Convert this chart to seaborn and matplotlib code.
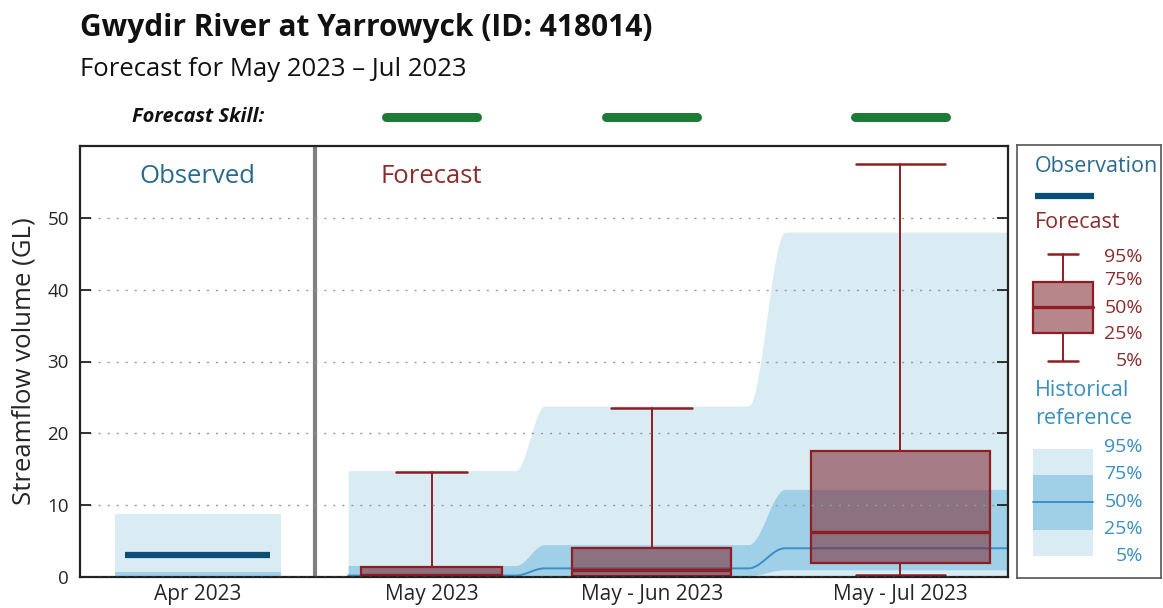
import numpy as np
import matplotlib
matplotlib.use("Agg")
import matplotlib.pyplot as plt
import seaborn as sns
from matplotlib.patches import Rectangle

# ---- data -------------------------------------------------------------
periods = ["Apr 2023", "May 2023", "May - Jun 2023", "May - Jul 2023"]
observed_value = 3.1  # Apr 2023 observation (GL)

# forecast percentiles (GL) for the three forecast periods
fc_p05 = [0.0, 0.0, 0.3]
fc_p25 = [0.1, 0.1, 2.0]
fc_p50 = [0.3, 1.0, 6.2]
fc_p75 = [1.4, 4.1, 17.6]
fc_p95 = [14.6, 23.5, 57.5]

# historical reference percentiles (GL) for all four periods
hist_p05 = [0.0, 0.0, 0.0, 0.0]
hist_p25 = [0.0, 0.1, 0.2, 1.0]
hist_p50 = [0.2, 0.2, 1.2, 4.0]
hist_p75 = [0.7, 1.6, 4.5, 12.2]
hist_p95 = [8.75, 14.8, 23.8, 48.0]

skill = ["high", "high", "high"]

# ---- layout (x in axis units 0..100) ----------------------------------
centers = [12.7, 37.9, 61.6, 88.4]
band_left = [3.8, 28.9, 50.1, 76.0]
band_right = [21.7, 46.9, 72.0, 100.0]
box_widths = [15.2, 17.2, 19.3]
cap_widths = [7.7, 8.7, 9.6]
obs_span = (4.8, 20.5)
divider_x = 25.3

LIGHT = "#d9ebf3"
DARK = "#a0d0e7"
MED = "#3b8fc9"
OBS = "#0b4f79"
RED = "#8f1d22"
BOXFACE = (125 / 255, 35 / 255, 45 / 255, 0.55)
OBS_TXT = "#2a6a8e"
FC_TXT = "#8b2d2d"
HIST_TXT = "#3a8fc0"
SKILL_COL = {"high": "#1e7b35", "moderate": "#f0c419", "low": "#e36b2c"}

sns.set_style("white")
plt.rcParams["font.family"] = ["Open Sans", "DejaVu Sans"]


def smooth_steps(lefts, rights, values, n=40):
    """Flat segments joined by cosine transitions."""
    xs, ys = [], []
    for i in range(len(values)):
        xs += [lefts[i], rights[i]]
        ys += [values[i], values[i]]
        if i < len(values) - 1:
            t = np.linspace(0, 1, n)[1:-1]
            s = (1 - np.cos(np.pi * t)) / 2
            xs += list(rights[i] + t * (lefts[i + 1] - rights[i]))
            ys += list(values[i] + s * (values[i + 1] - values[i]))
    return np.array(xs), np.array(ys)


fig = plt.figure(figsize=(11.63, 6.08), dpi=100)
ax = fig.add_axes([80 / 1163, 31 / 608, 928 / 1163, 431 / 608])

# historical reference - observed period
ax.fill_between([band_left[0], band_right[0]], hist_p05[0], hist_p95[0],
                color=LIGHT, lw=0)
ax.fill_between([band_left[0], band_right[0]], hist_p25[0], hist_p75[0],
                color=DARK, lw=0)

# historical reference - forecast periods
fl, fr = band_left[1:], band_right[1:]
x, lo = smooth_steps(fl, fr, hist_p05[1:])
_, hi = smooth_steps(fl, fr, hist_p95[1:])
ax.fill_between(x, lo, hi, color=LIGHT, lw=0)
_, lo = smooth_steps(fl, fr, hist_p25[1:])
_, hi = smooth_steps(fl, fr, hist_p75[1:])
ax.fill_between(x, lo, hi, color=DARK, lw=0)
_, med = smooth_steps(fl, fr, hist_p50[1:])
ax.plot(x, med, color=MED, lw=1.4)

# observation
ax.plot(obs_span, [observed_value, observed_value], color=OBS, lw=4.5,
        solid_capstyle="butt")

# forecast boxes
stats = []
for i in range(3):
    stats.append(dict(whislo=fc_p05[i], q1=fc_p25[i], med=fc_p50[i],
                      q3=fc_p75[i], whishi=fc_p95[i], fliers=[]))
ax.bxp(stats, positions=centers[1:], widths=box_widths, capwidths=cap_widths,
       patch_artist=True, showfliers=False, manage_ticks=False,
       boxprops=dict(facecolor=BOXFACE, edgecolor=RED, lw=1.6),
       whiskerprops=dict(color=RED, lw=1.4),
       capprops=dict(color=RED, lw=1.8),
       medianprops=dict(color=RED, lw=2.4))

ax.axvline(divider_x, color="#808080", lw=3)

ax.set_xlim(0, 100)
ax.set_ylim(0, 60)
ax.set_yticks([0, 10, 20, 30, 40, 50])
ax.set_xticks(centers)
ax.set_xticklabels(periods, fontsize=15)
ax.tick_params(axis="x", length=0, pad=5)
ax.tick_params(axis="y", direction="in", left=True, right=True, length=8,
               width=1.3, labelsize=13.5, color="#222222", pad=8)
ax.yaxis.grid(True, ls=(0, (1.5, 5)), color="#999999", lw=1)
ax.set_axisbelow(False)
for gl in ax.get_ygridlines():
    gl.set_zorder(0.5)
for sp in ax.spines.values():
    sp.set_color("#222222")
    sp.set_linewidth(1.6)
ax.set_ylabel("Streamflow volume (GL)", fontsize=18.5, labelpad=8)

ax.text(centers[0], 55.7, "Observed", color=OBS_TXT, fontsize=18.5,
        ha="center", va="center")
ax.text(centers[1], 55.7, "Forecast", color=FC_TXT, fontsize=18.5,
        ha="center", va="center")

# forecast skill row
sk = fig.add_axes([80 / 1163, 478 / 608, 928 / 1163, 26 / 608])
sk.set_xlim(0, 100)
sk.set_ylim(0, 1)
sk.axis("off")
sk.text(centers[0], 0.5, "Forecast Skill:", fontsize=14.5, fontweight="bold",
        fontstyle="italic", ha="center", va="center", color="#111111")
for c, s in zip(centers[1:], skill):
    sk.plot([c - 4.9, c + 4.9], [0.5, 0.5], color=SKILL_COL[s], lw=6.5,
            solid_capstyle="round")

# titles
fig.text(80 / 1163, 1 - 28 / 608, "Gwydir River at Yarrowyck (ID: 418014)",
         fontsize=21.5, fontweight="bold", va="center", color="#111111")
fig.text(80 / 1163, 1 - 69 / 608, "Forecast for May 2023 \u2013 Jul 2023",
         fontsize=18.5, va="center", color="#111111")

# legend panel (pixel coordinates from its top-left corner)
lg = fig.add_axes([1017 / 1163, 30 / 608, 144 / 1163, 433 / 608])
lg.set_xlim(0, 144)
lg.set_ylim(433, 0)
lg.set_xticks([])
lg.set_yticks([])
for sp in lg.spines.values():
    sp.set_color("#555555")
    sp.set_linewidth(1.2)

lg.text(18, 21, "Observation", color=OBS_TXT, fontsize=15.5, va="center")
lg.plot([18, 77], [51, 51], color=OBS, lw=4.5, solid_capstyle="butt")
lg.text(18, 77, "Forecast", color=FC_TXT, fontsize=15.5, va="center")

lg.add_patch(Rectangle((16, 137), 60, 51, facecolor=BOXFACE, edgecolor=RED,
                       lw=1.6))
lg.plot([46, 46], [109, 137], color=RED, lw=1.4)
lg.plot([46, 46], [188, 216], color=RED, lw=1.4)
lg.plot([31, 61], [109, 109], color=RED, lw=1.8)
lg.plot([31, 61], [216, 216], color=RED, lw=1.8)
lg.plot([16, 76], [162, 162], color=RED, lw=2.4)

pct = ["95%", "75%", "50%", "25%", "5%"]
for y, p in zip([112, 135, 163, 189, 216], pct):
    lg.text(126, y, p, color=FC_TXT, fontsize=14, ha="right", va="center")

lg.text(18, 245, "Historical", color=HIST_TXT, fontsize=15.5, va="center")
lg.text(18, 273, "reference", color=HIST_TXT, fontsize=15.5, va="center")
lg.add_patch(Rectangle((16, 304), 60, 107, facecolor=LIGHT, lw=0))
lg.add_patch(Rectangle((16, 330), 60, 55, facecolor=DARK, lw=0))
lg.plot([16, 76], [357, 357], color=MED, lw=1.4)
for y, p in zip([302, 329, 357, 384, 411], pct):
    lg.text(126, y, p, color=HIST_TXT, fontsize=14, ha="right", va="center")

fig.savefig("out.png", dpi=100)
